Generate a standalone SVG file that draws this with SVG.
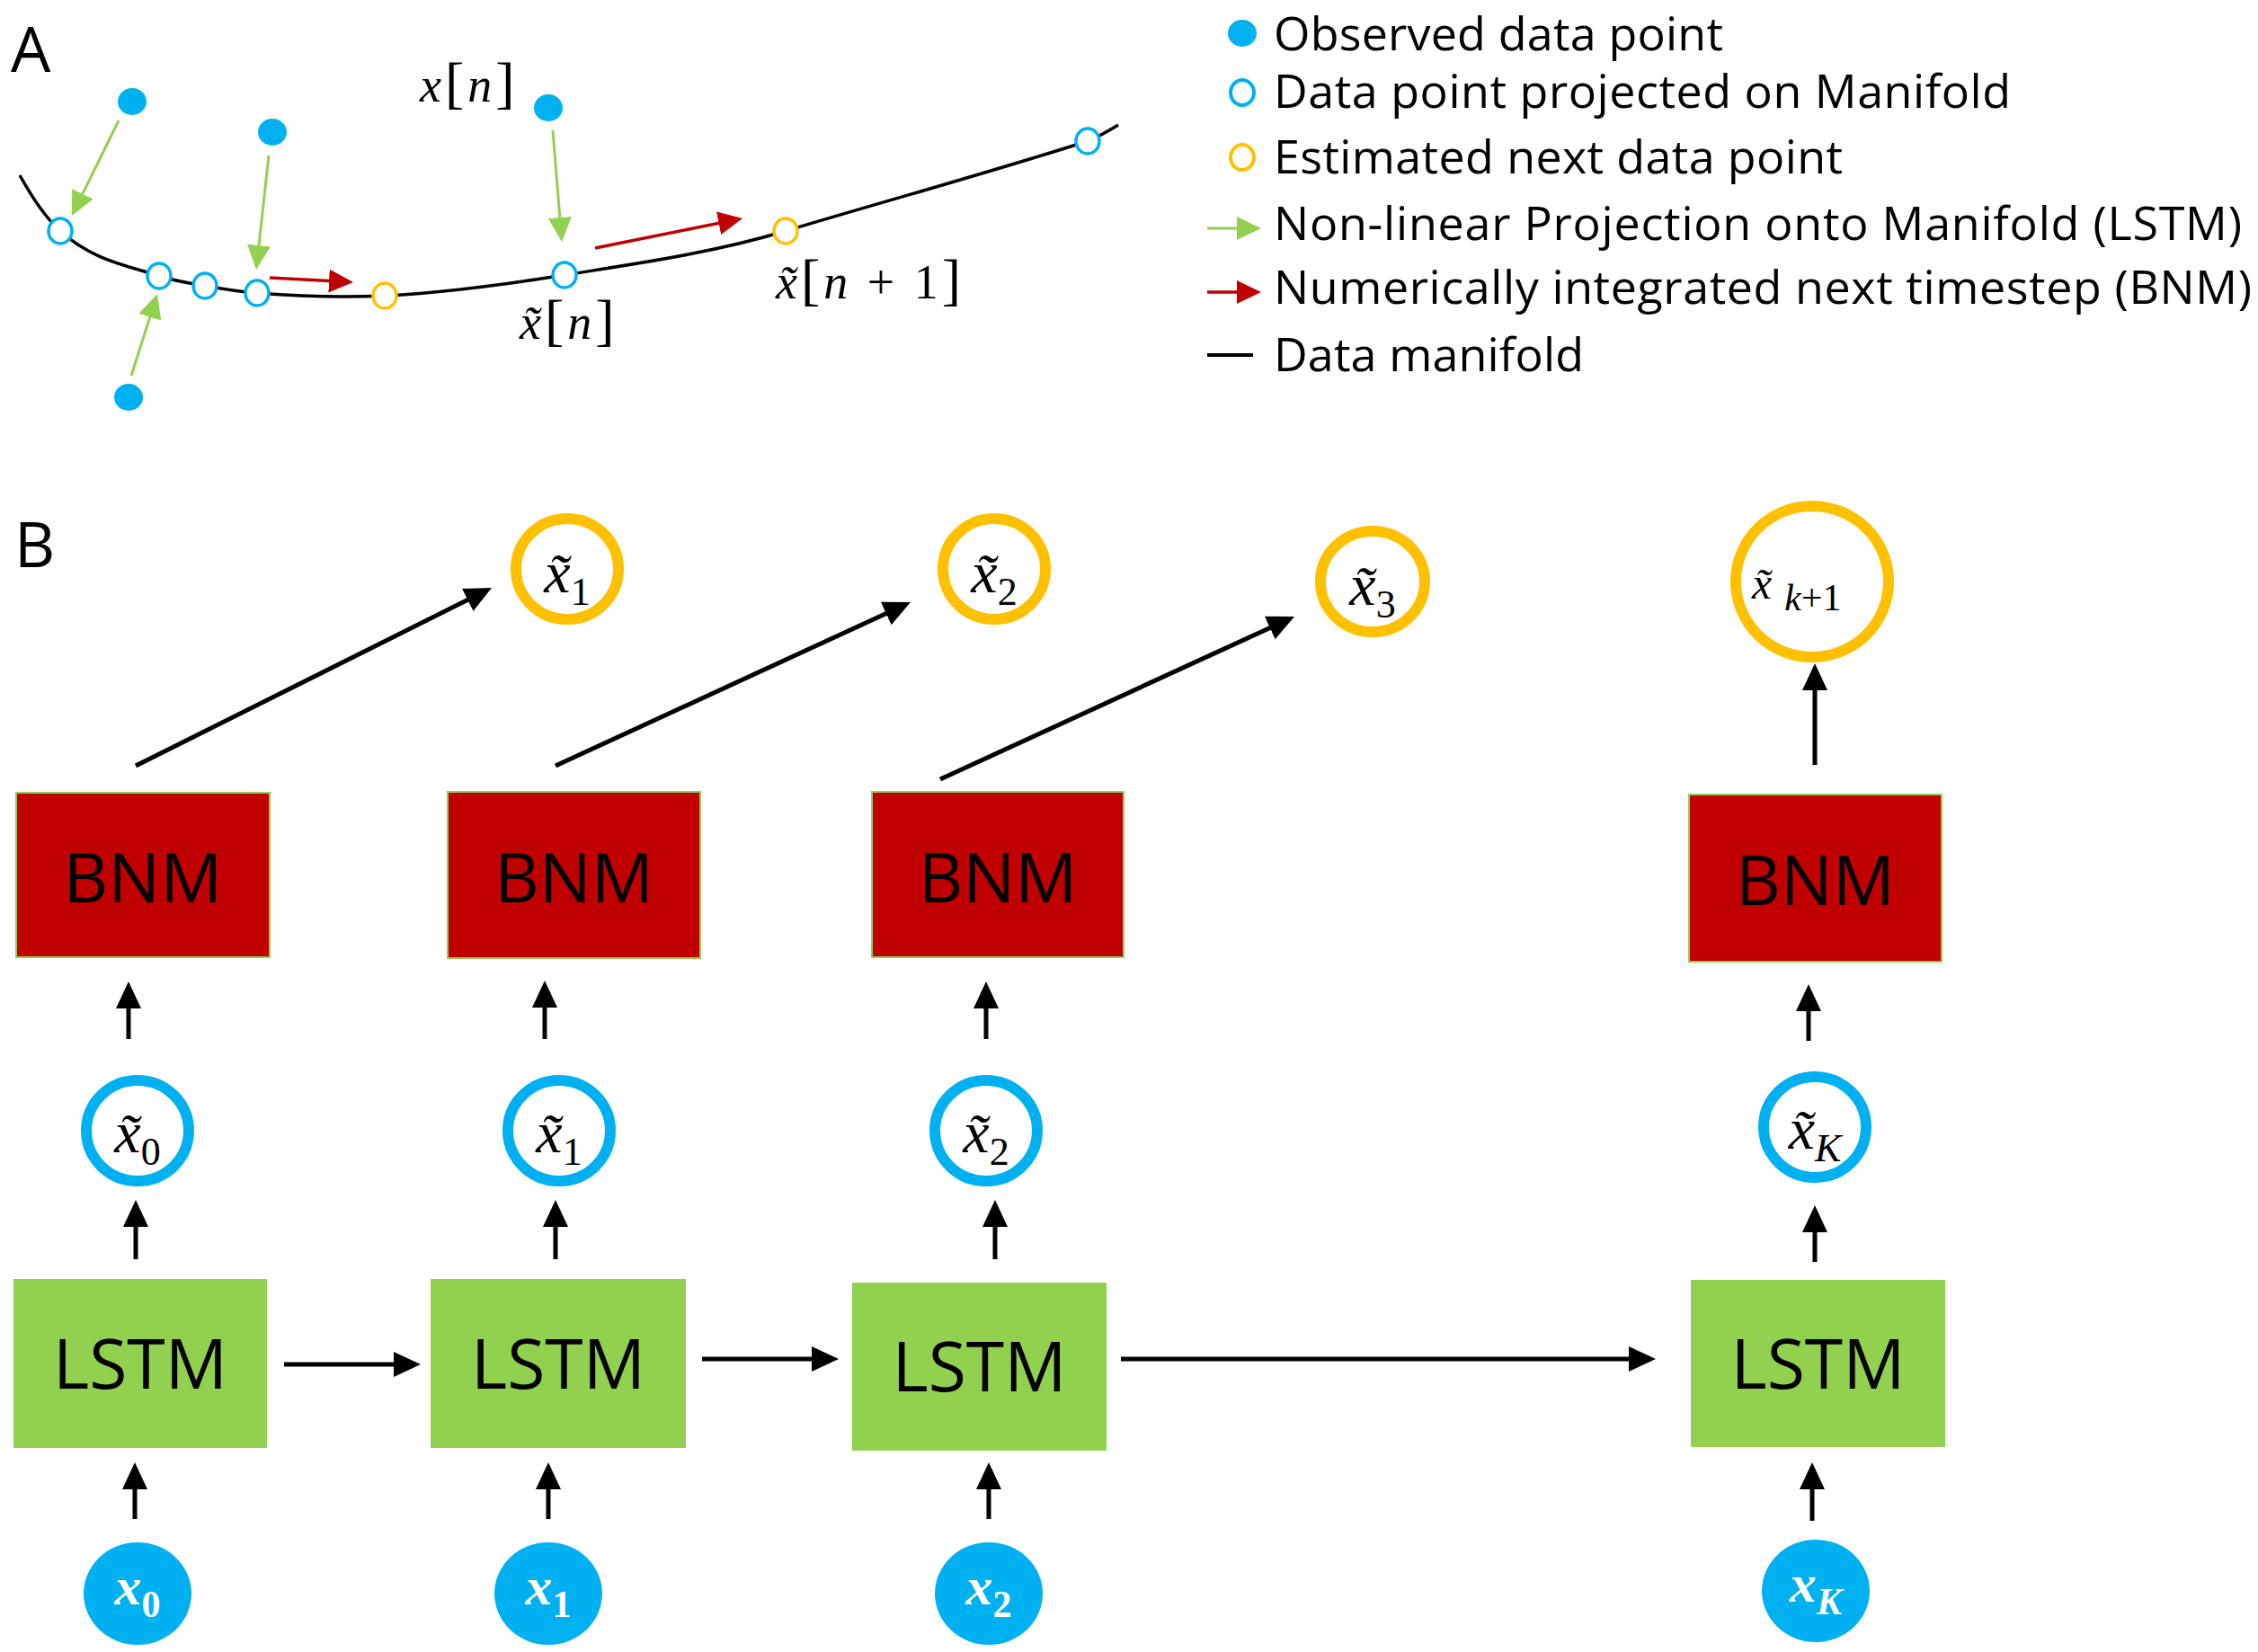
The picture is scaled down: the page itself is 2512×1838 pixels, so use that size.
<svg xmlns="http://www.w3.org/2000/svg" width="2512" height="1838" viewBox="0 0 2512 1838">
<style>
.sans{font-family:"Open Sans","Liberation Sans",sans-serif;fill:#000}
.panel{font-size:70px}
.leg{font-size:52px}
.boxt{font-size:77px;text-anchor:middle}
.math{font-family:"Liberation Serif",serif;fill:#000}
.it{font-style:italic}
.br{font-size:64px}
.bnm{fill:#C00000;stroke:#92D050;stroke-width:2}
.lstm{fill:#92D050}
.ring-b{fill:#fff;stroke:#00B0F0;stroke-width:12}
.ring-y{fill:#fff;stroke:#FFC000;stroke-width:12}
.inp{fill:#00B0F0}
.pt{fill:#00B0F0}
.proj{fill:#fff;stroke:#00B0F0;stroke-width:3.5}
.est{fill:#fff;stroke:#FFC000;stroke-width:3.5}
.blk{stroke:#000;stroke-width:5;fill:none;marker-end:url(#ah)}
.grn{stroke:#92D050;stroke-width:3;fill:none;marker-end:url(#ahg)}
.red{stroke:#C00000;stroke-width:3.5;fill:none;marker-end:url(#ahr)}
.cl{font-size:66px;text-anchor:middle}
.sub{font-size:44px}
.inl{font-size:60px;text-anchor:middle;fill:#fff;font-weight:bold}
</style>
<defs>
<marker id="ah" markerUnits="userSpaceOnUse" markerWidth="30" markerHeight="28" refX="20" refY="14" orient="auto"><path d="M0,0 L30,14 L0,28 z" fill="#000"/></marker>
<marker id="ahg" markerUnits="userSpaceOnUse" markerWidth="27" markerHeight="26" refX="19" refY="13" orient="auto"><path d="M0,0 L27,13 L0,26 z" fill="#92D050"/></marker>
<marker id="ahr" markerUnits="userSpaceOnUse" markerWidth="27" markerHeight="26" refX="19" refY="13" orient="auto"><path d="M0,0 L27,13 L0,26 z" fill="#C00000"/></marker>
</defs>
<rect width="2512" height="1838" fill="#fff"/>

<!-- Panel A -->
<text class="sans panel" x="12" y="80">A</text>
<g id="manifold">
<path d="M22,195 C37,222 52,243.5 67,257 C103.7,290 140.3,294.9 177,307 C194,312.6 211,315 228,318 C247.3,321.5 266.7,324.5 286,326 C333.3,329.8 380.7,331.4 428,329 C494.7,325.7 561.3,316.7 628,306 C710,292.9 792,281.6 874,257 C986,223.4 1098,192.8 1210,157 C1221.3,152.5 1232.7,146 1244,139" fill="none" stroke="#000" stroke-width="3.5"/>
</g>
<g id="a-connectors">
<line class="grn" x1="132" y1="134" x2="83.5" y2="232.8"/>
<line class="grn" x1="299" y1="173" x2="285.9" y2="292"/>
<line class="grn" x1="615" y1="145" x2="624.4" y2="261"/>
<line class="grn" x1="146" y1="418" x2="172.6" y2="334.6"/>
<line class="red" x1="300" y1="309" x2="385" y2="313.6"/>
<line class="red" x1="662" y1="276" x2="818.2" y2="244.6"/>
</g>
<g id="a-observed">
<ellipse class="pt" cx="147" cy="113" rx="16" ry="15"/>
<ellipse class="pt" cx="303" cy="147" rx="16" ry="15"/>
<ellipse class="pt" cx="610" cy="120" rx="16" ry="15"/>
<ellipse class="pt" cx="143" cy="442" rx="16" ry="15"/>
</g>
<g id="a-projected">
<ellipse class="proj" cx="67" cy="257" rx="13" ry="14"/>
<ellipse class="proj" cx="177" cy="307" rx="13" ry="14"/>
<ellipse class="proj" cx="228" cy="318" rx="13" ry="14"/>
<ellipse class="proj" cx="286" cy="326" rx="13" ry="14"/>
<ellipse class="proj" cx="628" cy="306" rx="13" ry="14"/>
<ellipse class="proj" cx="1210" cy="157" rx="13" ry="14"/>
</g>
<g id="a-estimated">
<ellipse class="est" cx="428" cy="329" rx="13" ry="14"/>
<ellipse class="est" cx="874" cy="257" rx="13" ry="14"/>
</g>
<g id="a-labels" class="math" font-size="54" letter-spacing="4">
<text x="467" y="113"><tspan class="it">x</tspan><tspan class="br">[</tspan><tspan class="it">n</tspan><tspan class="br">]</tspan></text>
<text x="578" y="377"><tspan class="it">x&#771;</tspan><tspan class="br">[</tspan><tspan class="it">n</tspan><tspan class="br">]</tspan></text>
<text x="863" y="332"><tspan class="it">x&#771;</tspan><tspan class="br">[</tspan><tspan class="it">n</tspan> + 1<tspan class="br">]</tspan></text>
</g>

<!-- Legend -->
<g id="legend">
<g id="leg-observed"><ellipse class="pt" cx="1382" cy="37" rx="16" ry="15"/><text class="sans leg" x="1417" y="56" textLength="500">Observed data point</text></g>
<g id="leg-projected"><ellipse cx="1382" cy="103" rx="13" ry="14" fill="#fff" stroke="#00B0F0" stroke-width="4"/><text class="sans leg" x="1417" y="120" textLength="820">Data point projected on Manifold</text></g>
<g id="leg-estimated"><ellipse cx="1382" cy="175" rx="13" ry="14" fill="#fff" stroke="#FFC000" stroke-width="4"/><text class="sans leg" x="1417" y="193" textLength="633">Estimated next data point</text></g>
<g id="leg-lstm"><line class="grn" x1="1343" y1="254" x2="1395" y2="254" stroke-width="4"/><text class="sans leg" x="1417" y="267" textLength="1077">Non-linear Projection onto Manifold (LSTM)</text></g>
<g id="leg-bnm"><line class="red" x1="1343" y1="325" x2="1395" y2="325" stroke-width="4"/><text class="sans leg" x="1417" y="338" textLength="1088">Numerically integrated next timestep (BNM)</text></g>
<g id="leg-manifold"><line x1="1343" y1="395" x2="1394" y2="395" stroke="#000" stroke-width="4"/><text class="sans leg" x="1417" y="413" textLength="345">Data manifold</text></g>
</g>

<!-- Panel B -->
<text class="sans panel" x="16" y="631">B</text>
<g id="connectors">
<line class="blk" x1="150" y1="1690" x2="150" y2="1637"/>
<line class="blk" x1="610" y1="1690" x2="610" y2="1637"/>
<line class="blk" x1="1100" y1="1690" x2="1100" y2="1637"/>
<line class="blk" x1="2016" y1="1692" x2="2016" y2="1637"/>
<line class="blk" x1="151" y1="1401" x2="151" y2="1345"/>
<line class="blk" x1="618" y1="1401" x2="618" y2="1345"/>
<line class="blk" x1="1107" y1="1401" x2="1107" y2="1345"/>
<line class="blk" x1="2019" y1="1404" x2="2019" y2="1351"/>
<line class="blk" x1="143" y1="1156" x2="143" y2="1102"/>
<line class="blk" x1="606" y1="1156" x2="606" y2="1101"/>
<line class="blk" x1="1097" y1="1156" x2="1097" y2="1102"/>
<line class="blk" x1="2012" y1="1158" x2="2012" y2="1105"/>
<line class="blk" x1="151" y1="852" x2="538.1" y2="658.5"/>
<line class="blk" x1="618" y1="852" x2="1003.9" y2="674.2"/>
<line class="blk" x1="1046" y1="867" x2="1430.9" y2="690.2"/>
<line class="blk" x1="2019" y1="851" x2="2019" y2="748"/>
<line class="blk" x1="316" y1="1518" x2="458" y2="1518"/>
<line class="blk" x1="781" y1="1512" x2="923" y2="1512"/>
<line class="blk" x1="1247" y1="1512" x2="1832" y2="1512"/>
</g>

<g id="bnm1"><rect class="bnm" x="18" y="882" width="282" height="183"/><text class="sans boxt" x="159" y="1004">BNM</text></g>
<g id="bnm2"><rect class="bnm" x="498" y="881" width="281" height="185"/><text class="sans boxt" x="638.5" y="1004">BNM</text></g>
<g id="bnm3"><rect class="bnm" x="970" y="881" width="280" height="184"/><text class="sans boxt" x="1110" y="1004">BNM</text></g>
<g id="bnm4"><rect class="bnm" x="1879" y="884" width="281" height="186"/><text class="sans boxt" x="2019.5" y="1007">BNM</text></g>

<g id="lstm1"><rect class="lstm" x="15" y="1423" width="282" height="188"/><text class="sans boxt" x="156" y="1545">LSTM</text></g>
<g id="lstm2"><rect class="lstm" x="479" y="1423" width="284" height="188"/><text class="sans boxt" x="621" y="1545">LSTM</text></g>
<g id="lstm3"><rect class="lstm" x="948" y="1427" width="283" height="187"/><text class="sans boxt" x="1089.5" y="1548">LSTM</text></g>
<g id="lstm4"><rect class="lstm" x="1881" y="1424" width="283" height="186"/><text class="sans boxt" x="2022.5" y="1545">LSTM</text></g>

<g id="proj0"><ellipse class="ring-b" cx="153" cy="1258" rx="57" ry="56"/><text class="math cl" x="153" y="1282"><tspan class="it">x&#771;</tspan><tspan class="sub" dy="14">0</tspan></text></g>
<g id="proj1"><ellipse class="ring-b" cx="622" cy="1258" rx="57" ry="56"/><text class="math cl" x="622" y="1282"><tspan class="it">x&#771;</tspan><tspan class="sub" dy="14">1</tspan></text></g>
<g id="proj2"><ellipse class="ring-b" cx="1097" cy="1258" rx="57" ry="56"/><text class="math cl" x="1097" y="1282"><tspan class="it">x&#771;</tspan><tspan class="sub" dy="14">2</tspan></text></g>
<g id="projK"><ellipse class="ring-b" cx="2019" cy="1254" rx="57" ry="56"/><text class="math cl" x="2019" y="1278"><tspan class="it">x&#771;</tspan><tspan class="sub it" dy="14">K</tspan></text></g>

<g id="est1"><ellipse class="ring-y" cx="631" cy="633" rx="57" ry="56"/><text class="math cl" x="631" y="659"><tspan class="it">x&#771;</tspan><tspan class="sub" dy="14">1</tspan></text></g>
<g id="est2"><ellipse class="ring-y" cx="1106" cy="633" rx="57" ry="56"/><text class="math cl" x="1106" y="659"><tspan class="it">x&#771;</tspan><tspan class="sub" dy="14">2</tspan></text></g>
<g id="est3"><ellipse class="ring-y" cx="1527" cy="647" rx="58" ry="56"/><text class="math cl" x="1527" y="673"><tspan class="it">x&#771;</tspan><tspan class="sub" dy="14">3</tspan></text></g>
<g id="estK1"><ellipse class="ring-y" cx="2016" cy="647" rx="85" ry="84" stroke-width="13"/><text class="math" x="1949" y="666" font-size="50"><tspan class="it">x&#771;</tspan><tspan font-size="42" dy="13" dx="14"><tspan class="it">k</tspan>+1</tspan></text></g>

<g id="in0"><ellipse class="inp" cx="153" cy="1773" rx="60" ry="57"/><text class="math inl" x="153" y="1785"><tspan class="it">x</tspan><tspan font-size="42" dy="14">0</tspan></text></g>
<g id="in1"><ellipse class="inp" cx="610" cy="1773" rx="60" ry="57"/><text class="math inl" x="610" y="1785"><tspan class="it">x</tspan><tspan font-size="42" dy="14">1</tspan></text></g>
<g id="in2"><ellipse class="inp" cx="1100" cy="1773" rx="60" ry="57"/><text class="math inl" x="1100" y="1785"><tspan class="it">x</tspan><tspan font-size="42" dy="14">2</tspan></text></g>
<g id="inK"><ellipse class="inp" cx="2020" cy="1770" rx="60" ry="57"/><text class="math inl" x="2020" y="1782"><tspan class="it">x</tspan><tspan class="it" font-size="42" dy="14">K</tspan></text></g>
</svg>
